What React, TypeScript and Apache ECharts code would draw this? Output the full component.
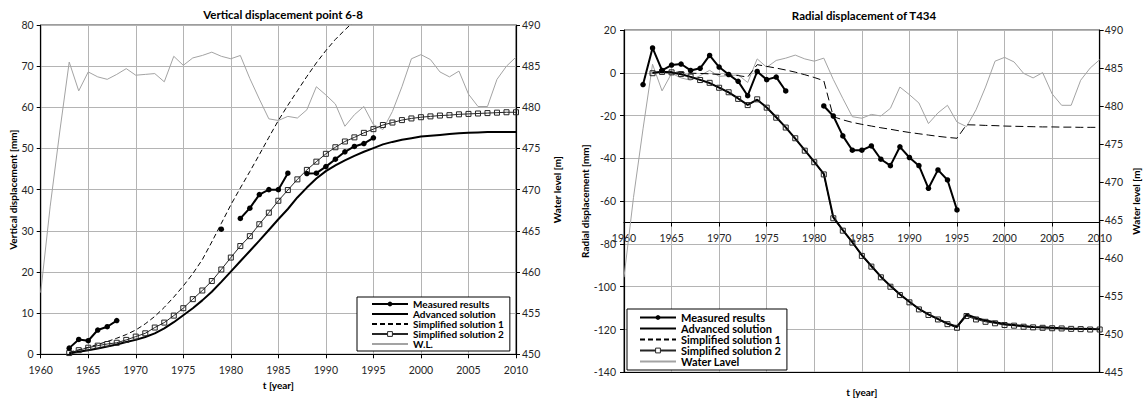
import React, { useEffect, useRef } from "react";
import * as echarts from "echarts";

const N = null;

const YEARS = [
  1960, 1961, 1962, 1963, 1964, 1965, 1966, 1967, 1968, 1969,
  1970, 1971, 1972, 1973, 1974, 1975, 1976, 1977, 1978, 1979,
  1980, 1981, 1982, 1983, 1984, 1985, 1986, 1987, 1988, 1989,
  1990, 1991, 1992, 1993, 1994, 1995, 1996, 1997, 1998, 1999,
  2000, 2001, 2002, 2003, 2004, 2005, 2006, 2007, 2008, 2009, 2010,
];

const WATER_LEVEL = [
  457.5, 468.0, 477.0, 485.5, 482.0, 484.3, 483.7, 483.4, 484.0, 484.7,
  483.9, 484.0, 484.1, 483.1, 486.2, 485.1, 486.0, 486.3, 486.7, 486.2,
  485.9, 486.3, 483.5, 481.0, 478.6, 478.4, 478.9, 478.7, 479.7, 482.5,
  481.5, 480.4, 477.7, 479.1, 480.1, 477.9, 477.3, 479.5, 482.5, 485.9,
  486.4, 485.8, 484.3, 483.7, 484.4, 481.6, 480.1, 480.1, 483.4, 485.0, 486.1,
];

// Vertical displacement point 6-8 [mm]
const V_MEASURED = [
  N, N, N, 1.5, 3.6, 3.3, 5.9, 6.7, 8.2, N,
  N, N, N, N, N, N, N, N, N, 30.4,
  N, 33.0, 35.5, 38.8, 40.0, 40.0, 44.0, N, 43.9, 44.0,
  45.6, 47.4, 49.2, 50.5, 51.2, 52.6, N, N, N, N,
  N, N, N, N, N, N, N, N, N, N, N,
];
const V_ADVANCED = [
  N, N, N, 0.2, 0.6, 1.0, 1.4, 1.9, 2.4, 3.0,
  3.5, 4.2, 5.1, 6.3, 7.8, 9.5, 11.2, 13.1, 15.2, 17.6,
  20.1, 22.6, 25.1, 27.6, 30.2, 32.8, 35.3, 38.1, 40.5, 42.7,
  44.5, 45.9, 47.1, 48.2, 49.2, 50.1, 51.0, 51.6, 52.1, 52.5,
  52.9, 53.1, 53.3, 53.5, 53.7, 53.8, 53.9, 54.0, 54.0, 54.0, 54.0,
];
const V_SIMPLE1 = [
  N, N, N, 0.5, 1.1, 1.7, 2.4, 3.1, 3.9, 4.8,
  5.9, 7.4, 9.2, 11.4, 13.9, 16.6, 19.6, 23.0, 27.3, 31.8,
  36.3, 40.4, 44.4, 48.5, 52.7, 56.8, 60.5, 64.0, 67.5, 70.8,
  73.8, 76.5, 78.8, 81.0, 83.0, N, N, N, N, N,
  N, N, N, N, N, N, N, N, N, N, N,
];
const V_SIMPLE2 = [
  N, N, N, 0.3, 1.0, 1.6, 2.1, 2.5, 2.8, 3.5,
  4.3, 5.1, 6.5, 7.7, 9.4, 11.2, 13.4, 15.5, 17.8, 20.6,
  23.5, 26.3, 28.7, 31.6, 34.4, 37.3, 39.9, 42.5, 44.8, 46.8,
  48.7, 50.3, 51.7, 52.7, 53.8, 54.7, 55.7, 56.3, 56.9, 57.3,
  57.6, 57.8, 58.0, 58.1, 58.3, 58.4, 58.5, 58.6, 58.7, 58.8, 58.8,
];

// Radial displacement of T434 [mm]
const R_MEASURED = [
  N, N, -5.5, 11.6, 1.1, 3.6, 4.1, 1.1, 2.1, 8.1,
  2.7, -0.8, -4.0, -10.7, 0.6, -3.2, -2.0, -8.5, N, N,
  N, -15.5, -20.2, -29.5, -36.2, -36.2, -34.2, -40.4, -43.4, -34.6,
  -39.6, -43.4, -54.0, -45.4, -50.1, -64.1, N, N, N, N,
  N, N, N, N, N, N, N, N, N, N, N,
];
const R_ADVANCED = [
  N, N, N, 0.0, 0.5, 0.1, -0.7, -1.9, -3.3, -4.8,
  -6.9, -9.2, -12.0, -15.0, -12.6, -16.2, -20.8, -25.5, -30.8, -36.2,
  -41.6, -47.2, -67.5, -73.5, -79.2, -85.2, -90.3, -95.3, -99.6, -103.5,
  -107.0, -110.3, -112.9, -115.0, -117.2, -118.7, -113.0, -114.6, -115.8, -116.6,
  -117.4, -117.9, -118.4, -118.8, -119.0, -119.2, -119.4, -119.6, -119.7, -119.8, -119.9,
];
const R_SIMPLE1 = [
  N, N, N, 0.0, 0.3, 0.5, 0.2, -0.2, -0.3, -0.5,
  -0.8, -1.0, -1.3, -2.0, 3.8, 3.0, 2.2, 1.3, 0.3, -0.9,
  -2.2, -3.7, -20.5, -22.0, -23.2, -24.1, -24.9, -25.7, -26.4, -27.2,
  -27.9, -28.5, -29.1, -29.7, -30.2, -30.6, -24.3, -24.4, -24.6, -24.7,
  -24.9, -25.0, -25.1, -25.2, -25.3, -25.3, -25.4, -25.4, -25.5, -25.5, -25.5,
];
const R_SIMPLE2 = [
  N, N, N, -0.2, 0.4, 0.2, -0.6, -1.8, -3.4, -4.7,
  -7.0, -9.1, -12.2, -15.1, -12.4, -16.3, -21.0, -25.6, -30.6, -36.4,
  -41.8, -47.5, -68.0, -73.8, -79.4, -85.6, -90.6, -95.6, -100.0, -103.9,
  -107.3, -110.6, -113.2, -115.3, -117.5, -119.2, -113.7, -115.3, -116.4, -117.1,
  -117.9, -118.2, -118.7, -119.0, -119.2, -119.4, -119.5, -119.7, -119.8, -120.0, -120.0,
];

const LEFT_LEGEND = ["Measured results", "Advanced solution", "Simplified solution 1", "Simplified solution 2", "W.L."];
const RIGHT_LEGEND = ["Measured results", "Advanced solution", "Simplified solution 1", "Simplified solution 2", "Water Lavel"];

const FONT = "Lato, 'Open Sans', sans-serif";

function pairs(vals: (number | null)[]) {
  return YEARS.map((y, i) => [y, vals[i] === null || vals[i] === undefined ? "-" : vals[i]]);
}

const NO_SYMBOL = { color: "rgba(0,0,0,0)", borderColor: "rgba(0,0,0,0)", borderWidth: 0, opacity: 0 };

function legendItems(names: string[]) {
  return names.map((name) => {
    if (name === "Measured results") return { name, itemStyle: { color: "#000", borderWidth: 0 } };
    if (name === "Simplified solution 2")
      return { name, itemStyle: { color: "#fff", borderColor: "#262626", borderWidth: 1 } };
    return { name, itemStyle: NO_SYMBOL };
  });
}

export default function App() {
  const ref = useRef<HTMLDivElement>(null);

  useEffect(() => {
    if (!ref.current) return;
    const chart = echarts.init(ref.current, undefined, { renderer: "svg" });

    const W = 1145;
    const H = 403;
    const L = { left: 40.7, top: 25, right: W - 516, bottom: H - 354.3 };
    const R = { left: 624, top: 30, right: W - 1099.7, bottom: H - 372.3 };
    const rHeight = H - R.top - R.bottom;
    const rMin = -140, rMax = 20, rCross = -70;
    const crossHeight = (rHeight * (rMax - rCross)) / (rMax - rMin);

    const gridLine = { show: true, lineStyle: { color: "#b4b4b4", width: 1 } };
    const tickLabel = { fontFamily: FONT, fontSize: 10.5, color: "#262626" };
    const yearLabel = { ...tickLabel, formatter: (v: number) => String(v) };
    const nameStyle = { fontFamily: FONT, fontSize: 10, fontWeight: "bold" as const, color: "#000" };
    const blackLine = { show: true, onZero: false, lineStyle: { color: "#000", width: 1.2 } };
    const tick = { show: true, length: 4, lineStyle: { color: "#000" } };

    const mkSeries = (xi: number, yi: number, yiWL: number, measured: any, adv: any, s1: any, s2: any, wlName: string, dash: number[]) => [
      {
        name: wlName, type: "line", xAxisIndex: xi, yAxisIndex: yiWL, data: pairs(WATER_LEVEL),
        showSymbol: false, symbol: "none", lineStyle: { color: "#a3a3a3", width: 1 }, itemStyle: { color: "#a3a3a3" },
      },
      {
        name: "Simplified solution 1", type: "line", xAxisIndex: xi, yAxisIndex: yi, data: pairs(s1),
        symbol: "none", showSymbol: false, lineStyle: { color: "#000", width: 1, type: dash }, itemStyle: { color: "#000" },
      },
      {
        name: "Simplified solution 2", type: "line", xAxisIndex: xi, yAxisIndex: yi, data: pairs(s2),
        symbol: "rect", symbolSize: 5, lineStyle: { color: "#262626", width: 1 },
        itemStyle: { color: "rgba(255,255,255,0)", borderColor: "#262626", borderWidth: 1 },
      },
      {
        name: "Advanced solution", type: "line", xAxisIndex: xi, yAxisIndex: yi, data: pairs(adv),
        symbol: "none", showSymbol: false, lineStyle: { color: "#000", width: 2 }, itemStyle: { color: "#000" },
      },
      {
        name: "Measured results", type: "line", xAxisIndex: xi, yAxisIndex: yi, data: pairs(measured),
        symbol: "circle", symbolSize: 5.5, connectNulls: false, lineStyle: { color: "#000", width: 2 },
        itemStyle: { color: "#000" },
      },
    ];

    const legendBase = {
      orient: "vertical" as const,
      borderColor: "#000",
      borderWidth: 1,
      backgroundColor: "#fff",
      itemGap: 0,
      itemWidth: 36,
      itemHeight: 6,
      selectedMode: false,
      textStyle: { fontFamily: FONT, fontSize: 10, fontWeight: "bold" as const, color: "#000", lineHeight: 10 },
    };

    chart.setOption({
      animation: false,
      backgroundColor: "#fff",
      title: [
        {
          text: "Vertical displacement point 6-8", left: 283, top: 8, textAlign: "center", padding: 0,
          textStyle: { fontFamily: FONT, fontSize: 11.5, fontWeight: "bold", color: "#000" },
        },
        {
          text: "Radial displacement of T434", left: 864, top: 9, textAlign: "center", padding: 0,
          textStyle: { fontFamily: FONT, fontSize: 11.5, fontWeight: "bold", color: "#000" },
        },
      ],
      legend: [
        { ...legendBase, data: legendItems(LEFT_LEGEND), left: 357, top: 297, padding: [2, 6, 2, 14] },
        {
          ...legendBase, data: legendItems(RIGHT_LEGEND), left: 627, top: 309, padding: [3, 6, 3, 12],
          textStyle: { ...legendBase.textStyle, fontSize: 11, lineHeight: 11 },
        },
      ],
      grid: [
        { ...L, show: true, borderColor: "#3a3a3a", borderWidth: 1 },
        { ...R, show: true, borderColor: "#3a3a3a", borderWidth: 1 },
        { left: R.left, right: R.right, top: R.top, height: crossHeight },
      ],
      xAxis: [
        {
          type: "value", gridIndex: 0, min: 1960, max: 2010, interval: 5,
          axisLine: blackLine, axisTick: tick,
          axisLabel: { ...yearLabel, margin: 10 }, splitLine: gridLine,
          name: "t [year]", nameLocation: "middle", nameGap: 22, nameTextStyle: nameStyle,
        },
        {
          type: "value", gridIndex: 1, min: 1960, max: 2010, interval: 5,
          axisLine: blackLine, axisTick: { show: false }, axisLabel: { show: false }, splitLine: gridLine,
          name: "t [year]", nameLocation: "middle", nameGap: 15, nameTextStyle: nameStyle,
        },
        {
          type: "value", gridIndex: 2, min: 1960, max: 2010, interval: 5,
          axisLine: blackLine, axisTick: tick,
          axisLabel: { ...yearLabel, margin: 10 }, splitLine: { show: false },
        },
      ],
      yAxis: [
        {
          type: "value", gridIndex: 0, min: 0, max: 80, interval: 10,
          axisLine: blackLine, axisTick: tick,
          axisLabel: { ...tickLabel, margin: 7 }, splitLine: gridLine,
          name: "Vertical displacement [mm]", nameLocation: "middle", nameGap: 23, nameTextStyle: nameStyle,
        },
        {
          type: "value", gridIndex: 0, position: "right", min: 450, max: 490, interval: 5,
          axisLine: blackLine, axisTick: tick,
          axisLabel: { ...tickLabel, margin: 6 }, splitLine: { show: false },
          name: "Water level [m]", nameLocation: "middle", nameGap: 36, nameTextStyle: nameStyle,
        },
        {
          type: "value", gridIndex: 1, min: rMin, max: rMax, interval: 20,
          axisLine: blackLine, axisTick: tick,
          axisLabel: { ...tickLabel, margin: 8 }, splitLine: gridLine,
          name: "Radial displacement [mm]", nameLocation: "middle", nameGap: 28, nameTextStyle: nameStyle,
        },
        {
          type: "value", gridIndex: 1, position: "right", min: 445, max: 490, interval: 5,
          axisLine: blackLine, axisTick: tick,
          axisLabel: { ...tickLabel, margin: 5 }, splitLine: { show: false },
          name: "Water level [m]", nameLocation: "middle", nameGap: 31, nameTextStyle: nameStyle,
        },
        { type: "value", gridIndex: 2, show: false, min: rCross, max: rMax },
      ],
      series: [
        ...mkSeries(0, 0, 1, V_MEASURED, V_ADVANCED, V_SIMPLE1, V_SIMPLE2, "W.L.", [5, 3]),
        ...mkSeries(1, 2, 3, R_MEASURED, R_ADVANCED, R_SIMPLE1, R_SIMPLE2, "Water Lavel", [8, 4]),
      ],
    });

    return () => chart.dispose();
  }, []);

  return (
    <div
      ref={ref}
      style={{ position: "absolute", left: 0, top: 0, width: 1145, height: 403, background: "#fff" }}
    />
  );
}
